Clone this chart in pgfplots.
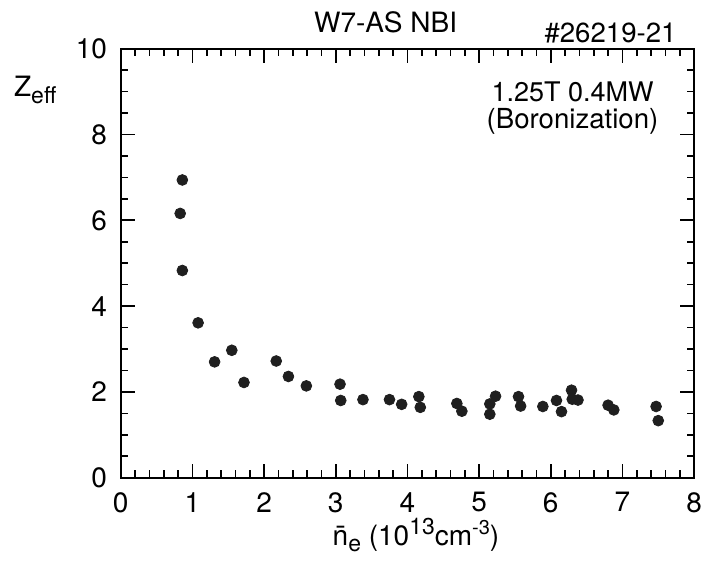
\documentclass[border=0pt]{standalone}
\usepackage{fontspec}
\setmainfont{TeX Gyre Heros}
\usepackage{pgfplots}
\pgfplotsset{compat=1.18}
\begin{document}
\begin{tikzpicture}
\begin{axis}[
  at={(0,0)}, anchor=south west,
  scale only axis, width=286.7pt, height=214.5pt,
  xmin=0, xmax=8, ymin=0, ymax=10,
  xtick={0,1,...,8}, ytick={0,2,...,10},
  minor x tick num=4, minor y tick num=3,
  tick align=inside, major tick length=7pt, minor tick length=3.6pt,
  every tick/.style={black, line width=0.8pt},
  axis line style={line width=1pt},
  tick label style={font=\fontsize{14}{16}\selectfont},
  yticklabel style={xshift=-3.3pt},
  xticklabel style={yshift=-3.8pt},
  /pgf/number format/assume math mode=true,
  clip=false,
]
\addplot[only marks, mark=*, mark size=2.7pt, color=black!88] coordinates {
(0.86,6.94) (0.83,6.16) (0.86,4.83) (1.08,3.61) (1.31,2.70) (1.55,2.97)
(1.72,2.22) (2.17,2.72) (2.34,2.36) (2.59,2.14) (3.06,2.18) (3.07,1.80)
(3.38,1.82) (3.75,1.82) (3.92,1.71) (4.16,1.89) (4.18,1.64) (4.69,1.73)
(4.76,1.55) (5.15,1.72) (5.15,1.48) (5.23,1.90) (5.55,1.89) (5.58,1.67)
(5.89,1.66) (6.08,1.80) (6.15,1.54) (6.29,2.04) (6.30,1.83) (6.38,1.81)
(6.80,1.69) (6.88,1.58) (7.47,1.66) (7.50,1.33)
};
\node[anchor=base east, inner sep=0pt, font=\fontsize{14}{16}\selectfont] at (rel axis cs:-0.1116,0.888) {Z\raisebox{-0.45ex}{\fontsize{11.5}{13}\selectfont eff}};
\node[anchor=base, inner sep=0pt, font=\fontsize{14}{16}\selectfont] at (rel axis cs:0.515,-0.157) {\={n}\raisebox{-0.45ex}{\fontsize{11.5}{13}\selectfont e} (10\raisebox{0.75ex}{\fontsize{11.5}{13}\selectfont 13}cm\raisebox{0.75ex}{\fontsize{10}{12}\selectfont -3})};
\node[anchor=base, inner sep=0pt, font=\fontsize{14}{16}\selectfont] at (rel axis cs:0.462,1.0366) {W7-AS NBI};
\node[anchor=base east, inner sep=0pt, font=\fontsize{13.8}{16}\selectfont] at (rel axis cs:0.970,1.0156) {\#26219-21};
\node[anchor=base, inner sep=0pt, font=\fontsize{13.5}{16}\selectfont] at (rel axis cs:0.788,0.876) {1.25T 0.4MW};
\node[anchor=base, inner sep=0pt, font=\fontsize{13.8}{16}\selectfont] at (rel axis cs:0.788,0.815) {(Boronization)};
\end{axis}
\pgfresetboundingbox
\useasboundingbox (-60.35pt,-42.15pt) rectangle ++(351pt,281pt);
\end{tikzpicture}
\end{document}
